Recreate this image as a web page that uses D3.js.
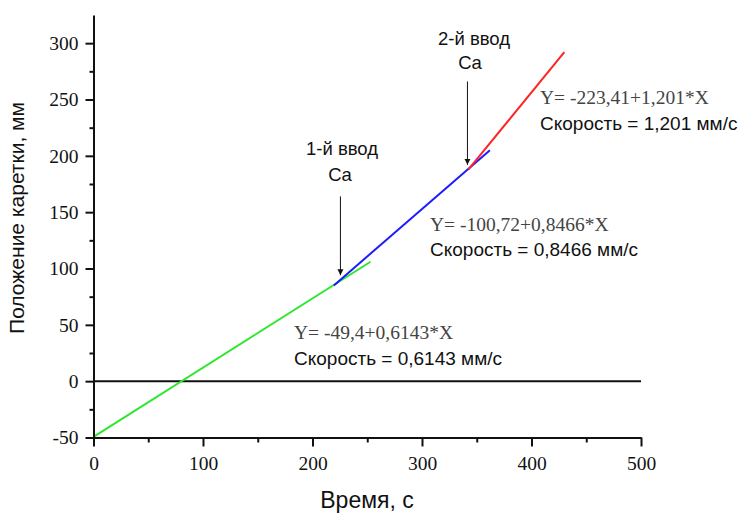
<!DOCTYPE html>
<html>
<head>
<meta charset="utf-8">
<script src="https://cdn.jsdelivr.net/npm/d3@7"></script>
<style>
  body { margin: 0; background: #fff; }
</style>
</head>
<body>
<div id="chart"></div>
<script>
// Line segments (endpoints): [time, position]
var greenSeg = [[0, -49.4], [253, 106]];
var blueSeg  = [[219.5, 85], [362, 205]];
var redSeg   = [[342.5, 188], [430, 292]];

// Arrows marking Ca injections: [x, yTop, yTip]
var arrows = [[225.5, 164, 94], [341.5, 266, 192]];

var xTicks = [0, 100, 200, 300, 400, 500];
var xMinor = [50, 150, 250, 350, 450];
var yTicks = [-50, 0, 50, 100, 150, 200, 250, 300];
var yMinor = [-25, 25, 75, 125, 175, 225, 275];

// Set the dimensions
var W = 745, H = 514;
var margin = { top: 15, right: 104, bottom: 76.5, left: 93.5 },
    width = W - margin.left - margin.right,
    height = H - margin.top - margin.bottom;

var sans = "Liberation Sans, Arial, sans-serif";
var serif = "Liberation Serif, Times New Roman, serif";

var svg = d3.select("#chart")
  .append("svg")
    .attr("width", W)
    .attr("height", H);

var g = svg.append("g")
    .attr("transform", `translate(${margin.left},${margin.top})`);

var x = d3.scaleLinear().domain([0, 500]).range([0, width]);
var y = d3.scaleLinear().domain([-50, 325]).range([height, 0]);

// Zero line
g.append("line")
  .attr("x1", x(0)).attr("x2", x(500))
  .attr("y1", y(0)).attr("y2", y(0))
  .attr("stroke", "#111").attr("stroke-width", 2);

// Fitted lines
var line = d3.line().x(function(d) { return x(d[0]); }).y(function(d) { return y(d[1]); });
[[greenSeg, "#2fe62f"], [blueSeg, "#1c1cff"], [redSeg, "#ff2424"]].forEach(function(s) {
  g.append("path")
    .attr("d", line(s[0]))
    .attr("fill", "none")
    .attr("stroke", s[1])
    .attr("stroke-width", 2);
});

var fmt = function(d) { return String(d); }; // plain hyphen minus

// X axis
g.append("g")
  .attr("transform", `translate(0, ${height})`)
  .call(d3.axisBottom(x).tickValues(xTicks).tickFormat(fmt).tickSize(9).tickPadding(10).tickSizeOuter(0))
  .attr("font-family", serif).attr("font-size", 19.5);
g.append("g")
  .attr("transform", `translate(0, ${height})`)
  .call(d3.axisBottom(x).tickValues(xMinor).tickSize(5).tickFormat("").tickSizeOuter(0))
  .select(".domain").remove();

// Y axis
g.append("g")
  .call(d3.axisLeft(y).tickValues(yTicks).tickFormat(fmt).tickSize(8).tickPadding(7).tickSizeOuter(0))
  .attr("font-family", serif).attr("font-size", 19.5);
g.append("g")
  .call(d3.axisLeft(y).tickValues(yMinor).tickSize(4).tickFormat("").tickSizeOuter(0))
  .select(".domain").remove();

g.selectAll(".domain").attr("stroke", "#111").attr("stroke-width", 2);
g.selectAll(".tick line").attr("stroke", "#111").attr("stroke-width", 2);
g.selectAll(".tick text").attr("fill", "#111");

// Arrows
var defs = svg.append("defs");
defs.append("marker")
  .attr("id", "head")
  .attr("viewBox", "0 0 10 10")
  .attr("refX", 10).attr("refY", 5)
  .attr("markerWidth", 6).attr("markerHeight", 11)
  .attr("markerUnits", "userSpaceOnUse")
  .attr("orient", "auto")
  .append("path").attr("d", "M0,0L10,5L0,10Z").attr("fill", "#111");

arrows.forEach(function(a) {
  g.append("line")
    .attr("x1", x(a[0])).attr("x2", x(a[0]))
    .attr("y1", y(a[1])).attr("y2", y(a[2]))
    .attr("stroke", "#111").attr("stroke-width", 1)
    .attr("marker-end", "url(#head)");
});

// Annotations
function txt(px, py, s, font, size, anchor, color) {
  svg.append("text")
    .attr("x", px).attr("y", py)
    .attr("font-family", font)
    .attr("font-size", size)
    .attr("text-anchor", anchor || "start")
    .attr("fill", color || "#111")
    .text(s);
}
txt(342, 155, "1-й ввод", sans, 18.5, "middle");
txt(340, 181, "Ca", sans, 18.5, "middle");
txt(474, 45, "2-й ввод", sans, 18.5, "middle");
txt(470, 69, "Ca", sans, 18.5, "middle");

txt(294, 339, "Y= -49,4+0,6143*X", serif, 19.5, "start", "#444");
txt(294, 365, "Скорость = 0,6143 мм/с", sans, 19);
txt(430, 231, "Y= -100,72+0,8466*X", serif, 19.5, "start", "#444");
txt(430, 256, "Скорость = 0,8466 мм/с", sans, 19);
txt(540, 104, "Y= -223,41+1,201*X", serif, 19.5, "start", "#444");
txt(540, 130, "Скорость = 1,201 мм/с", sans, 19);

// Axis titles
svg.append("text")
  .attr("x", 367).attr("y", 508)
  .attr("text-anchor", "middle")
  .attr("font-family", sans).attr("font-size", 23).attr("fill", "#111")
  .text("Время, с");
svg.append("text")
  .attr("transform", "translate(24, 218) rotate(-90)")
  .attr("text-anchor", "middle")
  .attr("font-family", sans).attr("font-size", 21).attr("fill", "#111")
  .text("Положение каретки, мм");
</script>
</body>
</html>
